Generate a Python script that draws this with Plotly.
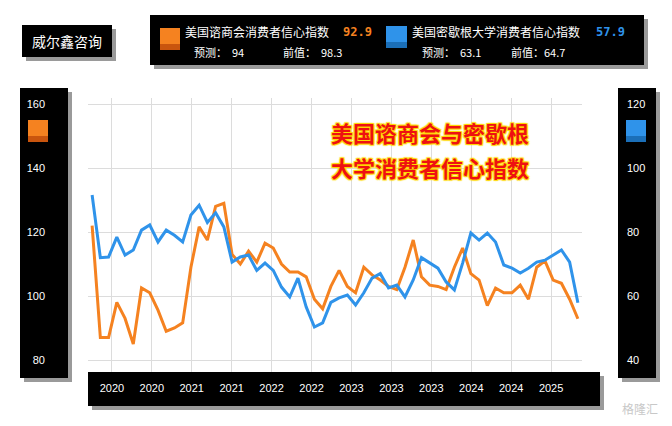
import plotly.graph_objects as go

tick_labels = ["2020","2020","2021","2021","2022","2022","2023","2023","2023","2024","2024","2025"]
cb_values = [122,87,87,98,93,85,102.5,101,95.6,89, 90,91.6,109,121.6,117.5,128,129,113,110,114,
             110.6,116.5,115,110,107.5,107.5,106,99,96,103, 108,103,101,109,106.6,105,103,102,109,117.5,
             106,103.4,103,102,109,115,107,105,97,102.5, 101,101,103.4,99,109,111,105,104,99,92.9]
um_values = [91.6,72,72.2,78.4,72.8,74.4,80.6,82.2,76.9,80.6, 79,76.9,85.3,88.4,83,86,81.6,70.6,72.2,72.8,
             68,70.3,68,62.8,59.7,65.6,56.6,50.3,51.6,58, 59.4,60.3,57.2,61,65.6,67,62.5,63.4,59.7,65,
             72,70.3,68.7,64.4,61.9,70.3,79.7,77.5,79.7,76.9, 69.7,68.7,67.2,68.7,70.6,71.2,72.8,74.4,70.6,57.9]
idx = list(range(len(cb_values)))
tick_pos = [2.4 + 4.85 * i for i in range(len(tick_labels))]

OFF = 8  # page body margin
W, H = 672 - OFF, 426 - OFF
L, R, T, B = 88, 582, 98, 372
def px(x): return (x - L) / (R - L)
def py(y): return (B - y) / (B - T)

ORANGE = "#F58220"; BLUE = "#2F93EA"
fig = go.Figure()
fig.add_trace(go.Scatter(x=idx, y=cb_values, mode="lines", line=dict(color=ORANGE, width=3),
                         name="美国谘商会消费者信心指数"))
fig.add_trace(go.Scatter(x=idx, y=um_values, mode="lines", line=dict(color=BLUE, width=3),
                         name="美国密歇根大学消费者信心指数", yaxis="y2"))

shapes = []
def box(x0, y0, x1, y1, color="black", layer="below"):
    shapes.append(dict(type="rect", xref="paper", yref="paper", x0=px(x0), x1=px(x1), y0=py(y1), y1=py(y0),
                       fillcolor=color, line=dict(width=0), layer=layer))
for (a, b, c, d) in [(20, 88, 68, 378), (618, 88, 656, 378), (88, 372, 600, 406), (150, 15, 644, 65), (22, 25, 112, 57)]:
    box(a + 4, b + 4, c + 4, d + 4, "#9a9a9a")
    box(a, b, c, d, "black")
box(28, 120, 48, 136, ORANGE); box(28, 136, 48, 142, "#C9550E")
box(626, 120, 646, 136, BLUE); box(626, 136, 646, 142, "#1B6FB8")
box(160, 28, 180, 44, ORANGE, "above"); box(160, 44, 180, 50, "#C9550E", "above")
box(386, 26, 407, 42, BLUE, "above"); box(386, 42, 407, 48, "#1B6FB8", "above")

ann = []
def txt(x, y, s, color="white", size=12, anchor="left", font="Noto Sans CJK SC", **kw):
    ann.append(dict(xref="paper", yref="paper", x=px(x), y=py(y), text=s, showarrow=False,
                    xanchor=anchor, yanchor="middle", font=dict(color=color, size=size, family=font, **kw)))
txt(67, 41, "威尔鑫咨询", size=14, anchor="center")
txt(183, 32, "美国谘商会消费者信心指数", size=12)
txt(341, 32, "<b>92.9</b>", color=ORANGE, size=12, font="DejaVu Sans Mono")
txt(192, 52, "预测：  94", size=11)
txt(281, 52, "前值：  98.3", size=11)
txt(410, 32, "美国密歇根大学消费者信心指数", size=12)
txt(594, 32, "<b>57.9</b>", color=BLUE, size=12, font="DejaVu Sans Mono")
txt(420, 52, "预测：  63.1", size=11)
txt(509, 52, "前值：64.7", size=11)
sh = "1px 1px 1px #FFD700, -1px -1px 1px #FFD700, 1px -1px 1px #FFD700, -1px 1px 1px #FFD700"
txt(430, 132, "<b>美国谘商会与密歇根</b>", color="#EE1111", size=22, anchor="center", shadow=sh)
txt(430, 167, "<b>大学消费者信心指数</b>", color="#EE1111", size=22, anchor="center", shadow=sh)
txt(640, 408, "格隆汇", color="#c8c8c8", size=12, anchor="center")

fig.update_layout(
    width=W, height=H, margin=dict(l=L - OFF, r=W - (R - OFF), t=T - OFF, b=H - (B - OFF)),
    paper_bgcolor="white", plot_bgcolor="white", showlegend=False,
    shapes=shapes, annotations=ann,
    xaxis=dict(range=[-0.5, 59.5], tickvals=tick_pos, ticktext=tick_labels, showgrid=True,
               gridcolor="#dcdcdc", zeroline=False, ticks="", ticklabelstandoff=8,
               tickfont=dict(color="white", size=11, family="Liberation Sans")),
    yaxis=dict(range=[76.25, 161.9], tickvals=[80, 100, 120, 140, 160], showgrid=True, gridcolor="#dcdcdc",
               zeroline=False, ticklabelstandoff=42, tickfont=dict(color="white", size=11, family="Liberation Sans")),
    yaxis2=dict(range=[36.25, 121.9], tickvals=[40, 60, 80, 100, 120], overlaying="y", side="right",
                showgrid=False, zeroline=False, ticklabelstandoff=44,
                tickfont=dict(color="white", size=11, family="Liberation Sans")),
)
fig.write_html("out.html")
